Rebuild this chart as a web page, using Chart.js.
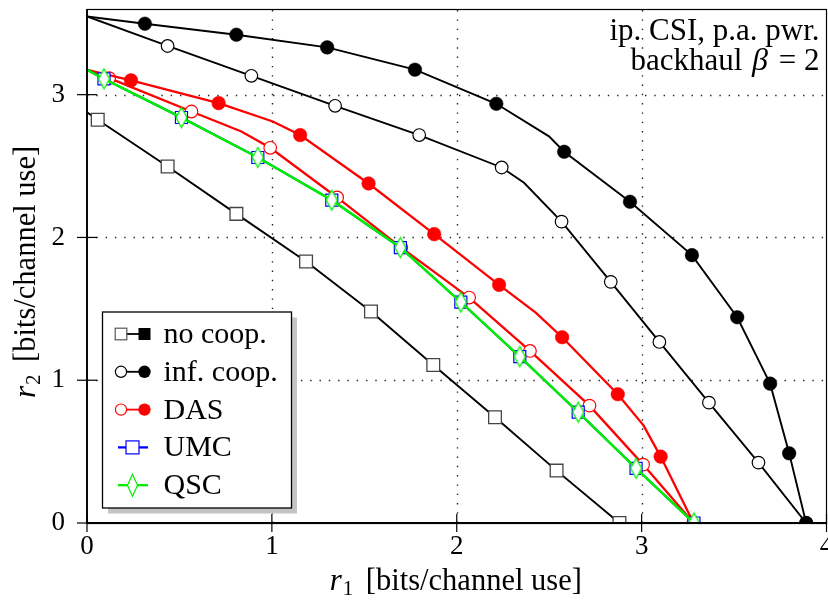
<!DOCTYPE html>
<html>
<head>
<meta charset="utf-8">
<script src="https://cdn.jsdelivr.net/npm/chart.js@4/dist/chart.umd.min.js"></script>
<style>
  html, body { margin: 0; padding: 0; background: #fff; }
  #wrap { width: 828px; height: 603px; position: relative; }
</style>
</head>
<body>
<div id="wrap"><canvas id="c" width="828" height="603"></canvas></div>
<script>
// Rate regions: pairs [r1, r2] in bits/channel use
const r1Ticks = [0, 1, 2, 3, 4];
const r2Ticks = [0, 1, 2, 3];
const seriesNames = ['no coop.', 'inf. coop.', 'DAS', 'UMC', 'QSC'];
const noteLines = ['ip. CSI, p.a. pwr.', 'backhaul'];

// marked boundary points
const noCoop = [[0.058, 2.824], [0.436, 2.497], [0.808, 2.165], [1.185, 1.831], [1.536, 1.481],
                [1.873, 1.107], [2.207, 0.741], [2.540, 0.367], [2.880, 0]];
const infCoopOpen = [[0.436, 3.341], [0.889, 3.132], [1.342, 2.922], [1.797, 2.717], [2.243, 2.490],
                     [2.567, 2.111], [2.833, 1.689], [3.096, 1.268], [3.364, 0.843], [3.632, 0.423], [3.89, 0]];
const infCoopFilled = [[0.313, 3.497], [0.808, 3.420], [1.299, 3.331], [1.774, 3.175], [2.214, 2.936],
                       [2.581, 2.600], [2.937, 2.250], [3.272, 1.876], [3.517, 1.441], [3.695, 0.976],
                       [3.798, 0.488], [3.89, 0]];
const dasOpen = [[0.120, 3.116], [0.565, 2.882], [0.991, 2.628], [1.353, 2.280], [1.700, 1.929],
                 [2.067, 1.579], [2.396, 1.205], [2.718, 0.822], [3.008, 0.409], [3.281, 0]];
const dasFilled = [[0.238, 3.100], [0.712, 2.941], [1.153, 2.717], [1.523, 2.378], [1.878, 2.023],
                   [2.229, 1.668], [2.570, 1.301], [2.871, 0.902], [3.103, 0.465], [3.281, 0]];
const umc = [[0.092, 3.111], [0.511, 2.840], [0.924, 2.560], [1.324, 2.261], [1.695, 1.929],
             [2.022, 1.547], [2.341, 1.165], [2.657, 0.776], [2.970, 0.383], [3.283, 0]];
const qsc = [[0.092, 3.111], [0.511, 2.840], [0.924, 2.560], [1.324, 2.261], [1.695, 1.929],
             [2.022, 1.547], [2.341, 1.165], [2.657, 0.776], [2.970, 0.383], [3.283, 0]];

// unmarked vertices of the same boundaries (axis intercepts and corners)
const noCoopEdge = [[0, 2.876]];
const infCoopOpenEdge = [[0, 3.548], [2.364, 2.383]];
const infCoopFilledEdge = [[0, 3.548], [2.499, 2.708]];
const dasOpenEdge = [[0, 3.174], [0.835, 2.742]];
const dasFilledEdge = [[0, 3.174], [1.005, 2.812], [2.427, 1.474], [3.011, 0.682]];
const umcEdge = [[0, 3.174]];
const qscEdge = [[0, 3.174]];

const SERIF = '"Liberation Serif", "DejaVu Serif", serif';
const RED = '#ff0000', GREEN = '#00ee00', BLUE = '#0000ff';

function curve(marks, edge) {
  const pts = marks.map(([x, y]) => ({ x, y, mark: true }))
    .concat(edge.map(([x, y]) => ({ x, y, mark: false })));
  return pts.sort((a, b) => a.x - b.x);
}

function diamond(w, h, color, lw) {
  const c = document.createElement('canvas');
  c.width = w + 4; c.height = h + 4;
  const g = c.getContext('2d');
  const cx = c.width / 2, cy = c.height / 2;
  g.beginPath();
  g.moveTo(cx, cy - h / 2); g.lineTo(cx + w / 2, cy); g.lineTo(cx, cy + h / 2); g.lineTo(cx - w / 2, cy);
  g.closePath();
  g.fillStyle = '#fff'; g.fill();
  g.strokeStyle = color; g.lineWidth = lw; g.stroke();
  return c;
}
const qscMarker = diamond(11, 20, GREEN, 1.3);

function series(marks, edge, o) {
  return {
    data: curve(marks, edge),
    showLine: true,
    tension: 0,
    fill: false,
    clip: 0,
    borderColor: o.line,
    borderWidth: o.width,
    pointStyle: c => (c.raw && c.raw.mark) ? o.style : 'circle',
    pointRadius: c => (c.raw && c.raw.mark) ? o.r : 0,
    pointBackgroundColor: o.fillColor,
    pointBorderColor: o.edgeColor,
    pointBorderWidth: o.edgeWidth,
    order: o.order
  };
}

const datasets = [
  series(noCoop, noCoopEdge, { line: '#000', width: 1.9, style: 'rect', r: 9, fillColor: '#fff', edgeColor: '#444', edgeWidth: 1.3, order: 7 }),
  series(infCoopOpen, infCoopOpenEdge, { line: '#000', width: 1.9, style: 'circle', r: 6.3, fillColor: '#fff', edgeColor: '#000', edgeWidth: 1.2, order: 6 }),
  series(infCoopFilled, infCoopFilledEdge, { line: '#000', width: 1.9, style: 'circle', r: 6.8, fillColor: '#000', edgeColor: '#000', edgeWidth: 0.5, order: 5 }),
  series(dasOpen, dasOpenEdge, { line: RED, width: 2.3, style: 'circle', r: 6.3, fillColor: '#fff', edgeColor: RED, edgeWidth: 1.2, order: 4 }),
  series(dasFilled, dasFilledEdge, { line: RED, width: 2.3, style: 'circle', r: 6.8, fillColor: RED, edgeColor: RED, edgeWidth: 0.5, order: 3 }),
  series(umc, umcEdge, { line: BLUE, width: 2, style: 'rect', r: 8.5, fillColor: '#fff', edgeColor: BLUE, edgeWidth: 1.2, order: 2 }),
  series(qsc, qscEdge, { line: GREEN, width: 2.5, style: qscMarker, r: 8, fillColor: '#fff', edgeColor: GREEN, edgeWidth: 1.2, order: 1 })
];

// dotted grid under the curves
const gridPlugin = {
  id: 'dottedGrid',
  beforeDatasetsDraw(chart) {
    const { ctx, chartArea: a, scales: { x, y } } = chart;
    ctx.save();
    ctx.strokeStyle = '#222';
    ctx.lineWidth = 1.4;
    ctx.setLineDash([1.4, 7.9]);
    r1Ticks.forEach(v => {
      if (v <= x.min || v >= x.max) return;
      const px = Math.round(x.getPixelForValue(v)) + 0.5;
      ctx.beginPath(); ctx.moveTo(px, a.bottom); ctx.lineTo(px, a.top); ctx.stroke();
    });
    r2Ticks.forEach(v => {
      if (v <= y.min || v >= y.max) return;
      const py = Math.round(y.getPixelForValue(v)) + 0.5;
      ctx.beginPath(); ctx.moveTo(a.left, py); ctx.lineTo(a.right, py); ctx.stroke();
    });
    ctx.restore();
  }
};

// r with subscript followed by a unit label
function drawRateTitle(ctx, sub, cx, baseline) {
  const main = '30.5px ' + SERIF, ital = 'italic 31px ' + SERIF, small = '21px ' + SERIF;
  const rest = ' [bits/channel use]';
  ctx.font = ital; const wr = ctx.measureText('r').width;
  ctx.font = small; const ws = ctx.measureText(sub).width;
  ctx.font = main; const wt = ctx.measureText(rest).width;
  let x = cx - (wr + 1 + ws + 5 + wt) / 2;
  ctx.fillStyle = '#000';
  ctx.textAlign = 'left';
  ctx.textBaseline = 'alphabetic';
  ctx.font = ital; ctx.fillText('r', x, baseline); x += wr + 1;
  ctx.font = small; ctx.fillText(sub, x, baseline + 5); x += ws + 5;
  ctx.font = main; ctx.fillText(rest, x, baseline);
}

const framePlugin = {
  id: 'frame',
  afterDatasetsDraw(chart) {
    const { ctx, chartArea: a, scales: { x, y } } = chart;
    ctx.save();
    ctx.strokeStyle = '#000';
    ctx.lineWidth = 1.2;
    ctx.strokeRect(a.left, a.top + 0.5, a.right - a.left, a.bottom - a.top);
    ctx.lineWidth = 1.8;
    ctx.beginPath();
    ctx.moveTo(a.left, a.top); ctx.lineTo(a.left, a.bottom); ctx.lineTo(a.right, a.bottom);
    ctx.stroke();
    ctx.lineWidth = 1.2;
    r1Ticks.forEach(v => {
      const px = x.getPixelForValue(v);
      ctx.beginPath(); ctx.moveTo(px, a.bottom - 9); ctx.lineTo(px, a.bottom + 9); ctx.stroke();
    });
    r2Ticks.forEach(v => {
      const py = y.getPixelForValue(v);
      ctx.beginPath(); ctx.moveTo(a.left - 10, py); ctx.lineTo(a.left + 10, py); ctx.stroke();
    });
    ctx.restore();
  },
  afterDraw(chart) {
    const { ctx, chartArea: a } = chart;
    ctx.save();
    // axis titles
    drawRateTitle(ctx, '1', (a.left + a.right) / 2 - 1, 590);
    ctx.save();
    ctx.translate(35, (a.top + a.bottom) / 2 + 6);
    ctx.rotate(-Math.PI / 2);
    drawRateTitle(ctx, '2', 0, 0);
    ctx.restore();

    // note in the upper right corner
    ctx.fillStyle = '#000';
    ctx.textBaseline = 'alphabetic';
    ctx.textAlign = 'right';
    const nx = a.right - 7;
    ctx.font = '31px ' + SERIF;
    ctx.fillText(noteLines[0], nx, 40);
    const tail = ' = 2';
    const wTail = ctx.measureText(tail).width;
    ctx.fillText(tail, nx, 70);
    ctx.font = 'italic 32px ' + SERIF;
    const wBeta = ctx.measureText('\u03B2').width;
    ctx.fillText('\u03B2', nx - wTail - 3, 70);
    ctx.font = '31px ' + SERIF;
    ctx.fillText(noteLines[1] + ' ', nx - wTail - wBeta - 5, 70);

    // legend box
    const bx = a.left + 15.5, bw = 189, bh = 196;
    const by = a.bottom - 15 - bh;
    ctx.fillStyle = '#c4c4c4';
    ctx.fillRect(bx + 5.5, by + 5.5, bw, bh);
    ctx.fillStyle = '#fff';
    ctx.fillRect(bx, by, bw, bh);
    ctx.strokeStyle = '#000';
    ctx.lineWidth = 1.3;
    ctx.strokeRect(bx, by, bw, bh);

    const rowY = i => by + 22 + i * 37.8;
    const pairRow = (cy, shape, color, edge) => {
      const x1 = bx + 18.5, x2 = bx + 42;
      ctx.strokeStyle = color; ctx.lineWidth = 1.8;
      ctx.beginPath(); ctx.moveTo(x1, cy); ctx.lineTo(x2, cy); ctx.stroke();
      ctx.lineWidth = 1.2;
      if (shape === 'square') {
        ctx.fillStyle = '#fff'; ctx.fillRect(x1 - 5.8, cy - 5.8, 11.6, 11.6);
        ctx.strokeStyle = edge; ctx.strokeRect(x1 - 5.8, cy - 5.8, 11.6, 11.6);
        ctx.fillStyle = color; ctx.fillRect(x2 - 6, cy - 6, 12, 12);
      } else {
        ctx.fillStyle = '#fff'; ctx.strokeStyle = color;
        ctx.beginPath(); ctx.arc(x1, cy, 5.6, 0, Math.PI * 2); ctx.fill(); ctx.stroke();
        ctx.fillStyle = color;
        ctx.beginPath(); ctx.arc(x2, cy, 6.2, 0, Math.PI * 2); ctx.fill();
      }
    };
    const singleRow = (cy, color, kind) => {
      const x1 = bx + 15.5, x2 = bx + 45.5, xc = bx + 30;
      ctx.strokeStyle = color; ctx.lineWidth = 2.3;
      ctx.beginPath(); ctx.moveTo(x1, cy); ctx.lineTo(x2, cy); ctx.stroke();
      ctx.lineWidth = 1.2;
      ctx.fillStyle = '#fff';
      if (kind === 'square') {
        ctx.fillRect(xc - 6.5, cy - 6.5, 13, 13); ctx.strokeRect(xc - 6.5, cy - 6.5, 13, 13);
      } else {
        ctx.beginPath();
        ctx.moveTo(xc, cy - 11); ctx.lineTo(xc + 5, cy); ctx.lineTo(xc, cy + 11); ctx.lineTo(xc - 5, cy);
        ctx.closePath(); ctx.fill(); ctx.stroke();
      }
    };
    pairRow(rowY(0), 'square', '#000', '#555');
    pairRow(rowY(1), 'circle', '#000');
    pairRow(rowY(2), 'circle', RED);
    singleRow(rowY(3), BLUE, 'square');
    singleRow(rowY(4), GREEN, 'diamond');

    ctx.fillStyle = '#000';
    ctx.textAlign = 'left';
    ctx.font = '30px ' + SERIF;
    seriesNames.forEach((s, i) => ctx.fillText(s, bx + 61, rowY(i) + 9));
    ctx.restore();
  }
};

new Chart(document.getElementById('c'), {
  type: 'scatter',
  data: { datasets },
  options: {
    responsive: false,
    animation: false,
    devicePixelRatio: 1,
    events: [],
    layout: { autoPadding: false, padding: { left: 0, right: 1.5, top: 9, bottom: 0 } },
    plugins: { legend: { display: false }, tooltip: { enabled: false } },
    scales: {
      x: {
        type: 'linear', min: 0, max: 4,
        grid: { display: false }, border: { display: false },
        afterBuildTicks: s => { s.ticks = r1Ticks.map(v => ({ value: v })); },
        ticks: { color: '#000', font: { family: SERIF, size: 27 }, padding: 0, maxRotation: 0, autoSkip: false,
                 callback: v => String(v) },
        afterFit: s => { s.height = 80; s.paddingLeft = 0; s.paddingRight = 0; }
      },
      y: {
        type: 'linear', min: 0, max: 3.6,
        grid: { display: false }, border: { display: false },
        afterBuildTicks: s => { s.ticks = r2Ticks.map(v => ({ value: v })); },
        ticks: { color: '#000', font: { family: SERIF, size: 27 }, padding: 14, autoSkip: false,
                 callback: v => String(v) },
        afterFit: s => { s.width = 87; s.paddingTop = 0; s.paddingBottom = 0; }
      }
    }
  },
  plugins: [gridPlugin, framePlugin]
});
</script>
</body>
</html>
